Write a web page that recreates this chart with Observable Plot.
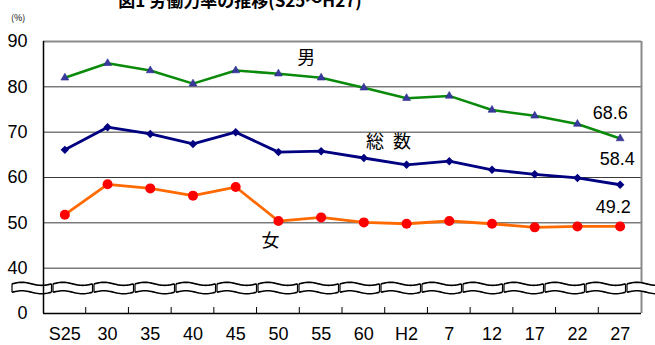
<!DOCTYPE html>
<html>
<head>
<meta charset="utf-8">
<script src="https://cdn.jsdelivr.net/npm/d3@7"></script>
<script src="https://cdn.jsdelivr.net/npm/@observablehq/plot@0.6"></script>
<style>
  html, body { margin: 0; padding: 0; background: #fff; }
  #wrap { position: relative; width: 655px; height: 345px; overflow: hidden; }
  #title { position: absolute; top: -9px; left: 0; width: 480px; text-align: center;
           font: bold 17px/17px "Noto Sans CJK JP", sans-serif; color: #000; }
  #unit { position: absolute; left: 11px; top: 13px; font: 9px/9px "Noto Sans CJK JP", sans-serif; }
  #chart { position: absolute; left: 0; top: 0; }
</style>
</head>
<body>
<div id="wrap">
  <div id="chart"></div>
  <div id="title">図1 労働力率の推移(S25～H27)</div>
  <div id="unit">(%)</div>
</div>
<script>
// Survey years (Showa 25 … Heisei 27)
const categories = ["S25", "30", "35", "40", "45", "50", "55", "60", "H2", "7", "12", "17", "22", "27"];

// Labour force participation rate (%)
const male   = [82.0, 85.2, 83.6, 80.7, 83.6, 82.9, 82.0, 79.8, 77.5, 78.0, 74.9, 73.6, 71.8, 68.6];
const total  = [66.1, 71.1, 69.6, 67.4, 70.0, 65.6, 65.8, 64.3, 62.8, 63.6, 61.7, 60.7, 59.9, 58.4];
const female = [51.8, 58.5, 57.6, 56.0, 57.9, 50.4, 51.2, 50.1, 49.8, 50.4, 49.8, 49.0, 49.2, 49.2];

// Y axis is broken below 40: the floor of the scale carries the "0" label
const yFloor = 30;
const yTicks = [30, 40, 50, 60, 70, 80, 90];
const yTickLabels = ["0", "40", "50", "60", "70", "80", "90"];
const gridValues = [40, 50, 60, 70, 80];

const seriesNames = ["男", "総\u2002数", "女"];

const idx = categories.map((_, i) => i);
const last = categories.length - 1;
const toRows = (vals) => vals.map((v, i) => ({i, v}));
const maleRows = toRows(male), totalRows = toRows(total), femaleRows = toRows(female);

const latin = "'Liberation Sans', Arial, sans-serif";
const cjk = "'Noto Sans CJK JP', sans-serif";

// Bottom tick marks between categories, and the wavy axis-break strip
function decorations(index, scales) {
  const {x, y} = scales;
  const g = d3.create("svg:g");
  const y0 = y(yFloor);
  for (let i = 0; i < last; i++) {
    const px = x(i + 0.5);
    g.append("line").attr("x1", px).attr("x2", px)
      .attr("y1", y0).attr("y2", y0 - 6)
      .attr("stroke", "#000").attr("stroke-width", 1);
  }
  const yc = y(35.5);
  const segW = 39.5, step = 41, start = 12, amp = 1.5, half = 4.2;
  for (let s = start; s < 655; s += step) {
    const n = 24, top = [], bot = [];
    for (let k = 0; k <= n; k++) {
      const t = k / n;
      const px = s + t * segW;
      const w = -amp * Math.sin(2 * Math.PI * t);
      top.push([px, yc - half + w]);
      bot.push([px, yc + half + w]);
    }
    const line = d3.line();
    g.append("path")
      .attr("d", line(top.concat(bot.slice().reverse())) + "Z")
      .attr("fill", "#fff").attr("stroke", "none");
    g.append("path").attr("d", line(top)).attr("fill", "none").attr("stroke", "#000").attr("stroke-width", 1.6);
    g.append("path").attr("d", line(bot)).attr("fill", "none").attr("stroke", "#000").attr("stroke-width", 1.6);
    g.append("line").attr("x1", s).attr("x2", s).attr("y1", top[0][1]).attr("y2", bot[0][1])
      .attr("stroke", "#000").attr("stroke-width", 1.2);
    g.append("line").attr("x1", s + segW).attr("x2", s + segW).attr("y1", top[n][1]).attr("y2", bot[n][1])
      .attr("stroke", "#000").attr("stroke-width", 1.2);
  }
  return g.node();
}

const chart = Plot.plot({
  width: 655,
  height: 345,
  marginLeft: 43,
  marginRight: 14,
  marginTop: 41,
  marginBottom: 32,
  x: {type: "linear", domain: [-0.5, last + 0.5], axis: null},
  y: {type: "linear", domain: [yFloor, 90], axis: null},
  style: {background: "transparent", overflow: "visible"},
  marks: [
    // grid
    Plot.ruleY(gridValues, {stroke: "#3a3a3a", strokeWidth: 1}),
    Plot.ruleY([90], {stroke: "#8a8a8a", strokeWidth: 2}),
    Plot.ruleX([last + 0.5], {stroke: "#8a8a8a", strokeWidth: 2}),
    decorations,
    // axes
    Plot.ruleY([yFloor], {stroke: "#000", strokeWidth: 1.5}),
    Plot.ruleX([-0.5], {stroke: "#000", strokeWidth: 1.5}),
    Plot.text(yTicks, {x: -0.5, y: d => d, text: (d, i) => yTickLabels[i], dx: -16, textAnchor: "end",
      fontSize: 18, fontFamily: latin, fill: "#000"}),
    Plot.text(idx, {x: d => d, y: yFloor, text: d => categories[d], dy: 21,
      fontSize: 18, fontFamily: latin, fill: "#000"}),
    // series
    Plot.line(maleRows, {x: "i", y: "v", stroke: "#0a8a0a", strokeWidth: 2.5}),
    Plot.dot(maleRows, {x: "i", y: "v", symbol: "triangle", r: 2.9, fill: "#3a3a9e", stroke: "#2a2a8a", strokeWidth: 0.6}),
    Plot.line(totalRows, {x: "i", y: "v", stroke: "#000080", strokeWidth: 2.8}),
    Plot.dot(totalRows, {x: "i", y: "v", symbol: "diamond2", r: 3.8, fill: "#000080", stroke: "none"}),
    Plot.line(femaleRows, {x: "i", y: "v", stroke: "#ff6a00", strokeWidth: 2.8}),
    Plot.dot(femaleRows, {x: "i", y: "v", symbol: "circle", r: 5, fill: "#ff0000", stroke: "none"}),
    // series names, placed beside a point on each line
    Plot.text([maleRows[6]], {x: "i", y: "v", text: () => seriesNames[0], dx: -15, dy: -20,
      fontSize: 18, fontFamily: cjk, fill: "#000"}),
    Plot.text([totalRows[8]], {x: "i", y: "v", text: () => seriesNames[1], dx: -18, dy: -23,
      fontSize: 18, fontFamily: cjk, fill: "#000"}),
    Plot.text([femaleRows[5]], {x: "i", y: "v", text: () => seriesNames[2], dx: -8, dy: 20,
      fontSize: 18, fontFamily: cjk, fill: "#000"}),
    // latest values
    Plot.text([maleRows[last]], {x: "i", y: "v", text: d => d.v.toFixed(1), dx: -10, dy: -25,
      fontSize: 18, fontFamily: latin, fill: "#000"}),
    Plot.text([totalRows[last]], {x: "i", y: "v", text: d => d.v.toFixed(1), dx: -3, dy: -26,
      fontSize: 18, fontFamily: latin, fill: "#000"}),
    Plot.text([femaleRows[last]], {x: "i", y: "v", text: d => d.v.toFixed(1), dx: -7, dy: -19,
      fontSize: 18, fontFamily: latin, fill: "#000"})
  ]
});
document.getElementById("chart").appendChild(chart);
</script>
</body>
</html>
